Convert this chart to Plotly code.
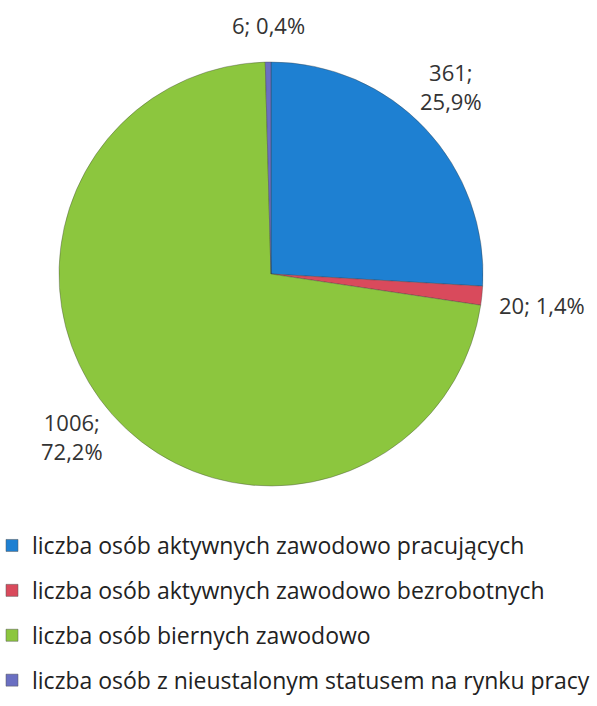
import plotly.graph_objects as go

categories = [
    "liczba osób aktywnych zawodowo pracujących",
    "liczba osób aktywnych zawodowo bezrobotnych",
    "liczba osób biernych zawodowo",
    "liczba osób z nieustalonym statusem na rynku pracy",
]
values = [361, 20, 1006, 6]
percent_labels = ["25,9%", "1,4%", "72,2%", "0,4%"]
colors = ["#1E80D2", "#D94A5C", "#8CC63E", "#6A6FC2"]

W, H = 597, 706
FONT = "Open Sans"

# pie placement (pixels)
cx, cy, r = 271, 274, 212

fig = go.Figure()
fig.add_trace(go.Pie(
    labels=categories,
    values=values,
    sort=False,
    direction="clockwise",
    rotation=0,
    marker=dict(colors=colors, line=dict(color="rgba(60,60,60,0.6)", width=0.6)),
    textinfo="none",
    hoverinfo="label+value+percent",
    showlegend=False,
    domain=dict(x=[(cx - r) / W, (cx + r) / W], y=[1 - (cy + r) / H, 1 - (cy - r) / H]),
))

# legend via dummy traces
for i, (c, col) in enumerate(zip(categories, colors)):
    fig.add_trace(go.Scatter(
        x=[None], y=[None], mode="markers", name=c,
        marker=dict(symbol="square", size=12, color=col, line=dict(color="#555", width=0.5)),
        legendgroup=f"g{i}", showlegend=True,
    ))

# data labels (block centre positions, px)
label_pos = [(451, 86), (542, 305), (72, 436), (268, 25)]
for i, (v, p) in enumerate(zip(values, percent_labels)):
    x, y = label_pos[i]
    if i in (0, 2):
        txt = f"{v};<br>{p}"
    else:
        txt = f"{v}; {p}"
    fig.add_annotation(
        x=x / W, y=1 - y / H, xref="paper", yref="paper", text=txt, showarrow=False,
        font=dict(family=FONT, size=22, color="#333333"), align="center",
        xanchor="center", yanchor="middle",
    )

fig.update_layout(
    width=W, height=H,
    margin=dict(l=0, r=0, t=0, b=0, autoexpand=False),
    paper_bgcolor="white", plot_bgcolor="white",
    xaxis=dict(visible=False), yaxis=dict(visible=False),
    legend=dict(
        x=-8 / W, y=1 - 524 / H, xanchor="left", yanchor="top",
        font=dict(family=FONT, size=23, color="#222222"),
        tracegroupgap=12, traceorder="grouped",
        itemwidth=30, bgcolor="rgba(0,0,0,0)",
    ),
    font=dict(family=FONT),
)

fig.write_html("out.html", config={"displayModeBar": False},
               post_script="document.body.style.margin='0';")
